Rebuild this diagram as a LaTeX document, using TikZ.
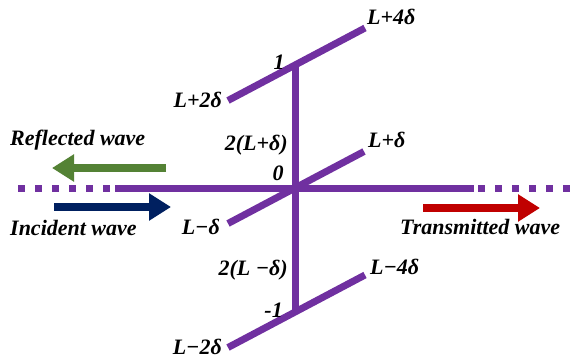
\documentclass[tikz,border=0pt]{standalone}
\usepackage{fontspec}
\setmainfont{Liberation Serif}
\usetikzlibrary{arrows.meta}
\definecolor{wire}{HTML}{7030A0}
\definecolor{refl}{HTML}{548235}
\definecolor{inc}{HTML}{002060}
\definecolor{trans}{HTML}{C00000}
\tikzset{
  wireline/.style={draw=wire,line width=7pt},
  dotline/.style={draw=wire,line width=7pt,dash pattern=on 7pt off 10pt},
  wavearrow/.style={line width=8pt,-{Triangle[length=22pt,width=26pt]}},
  lbl/.style={inner sep=0pt,font=\fontsize{22}{24}\selectfont\bfseries\itshape},
}
\begin{document}
\begin{tikzpicture}[x=1pt,y=1pt]
\useasboundingbox (0,0) rectangle (580,362);
% coordinates
\coordinate (O) at (295,174);
\coordinate (T) at (295,297);
\coordinate (B) at (295,50);
\coordinate (HL) at (115,174);
\coordinate (HLd) at (18,174);
\coordinate (HR) at (474,174);
\coordinate (HRd) at (478,174);
\coordinate (HRe) at (585,174);
\coordinate (TL) at (228,261.5);
\coordinate (TR) at (365,334);
\coordinate (ML) at (228,138.5);
\coordinate (MR) at (364,210.5);
\coordinate (BL) at (228,14.5);
\coordinate (BR) at (365,87);
% wires
\draw[dotline] (HLd) -- (HL);
\draw[dotline] (HRd) -- (HRe);
\draw[wireline] (HL) -- (HR);
\draw[wireline] (T) -- (B);
\draw[wireline] (TL) -- (TR);
\draw[wireline] (ML) -- (MR);
\draw[wireline] (BL) -- (BR);
% arrows
\coordinate (g1) at (166,194);
\coordinate (g2) at (52,194);
\coordinate (b1) at (54,155);
\coordinate (b2) at (171,155);
\coordinate (r1) at (423,154);
\coordinate (r2) at (540,154);
\draw[wavearrow,draw=refl,fill=refl] (g1) -- (g2);
\draw[wavearrow,draw=inc,fill=inc] (b1) -- (b2);
\draw[wavearrow,draw=trans,fill=trans] (r1) -- (r2);
% labels
\node[lbl,anchor=west] (reflected) at (10,222) {Reflected wave};
\node[lbl,anchor=west] (incident) at (10,134) {Incident wave};
\node[lbl,anchor=west] (transmitted) at (400,135) {Transmitted wave};
\node[lbl,anchor=west] (lp4) at (367,345) {L+4δ};
\node[lbl] (one) at (279,300) {1};
\node[lbl,anchor=east] (lp2) at (222,262) {L+2δ};
\node[lbl,anchor=east] (twolp) at (288,217) {2(L+δ)};
\node[lbl] (zero) at (278,189) {0};
\node[lbl,anchor=west] (lp1) at (368,222) {L+δ};
\node[lbl,anchor=east] (lm1) at (220,135) {L−δ};
\node[lbl,anchor=east] (twolm) at (288,92) {2(L −δ)};
\node[lbl,anchor=west] (lm4) at (370,95) {L−4δ};
\node[lbl,anchor=east] (mone) at (283,52) {-1};
\node[lbl,anchor=east] (lm2) at (222,15) {L−2δ};
\end{tikzpicture}
\end{document}
